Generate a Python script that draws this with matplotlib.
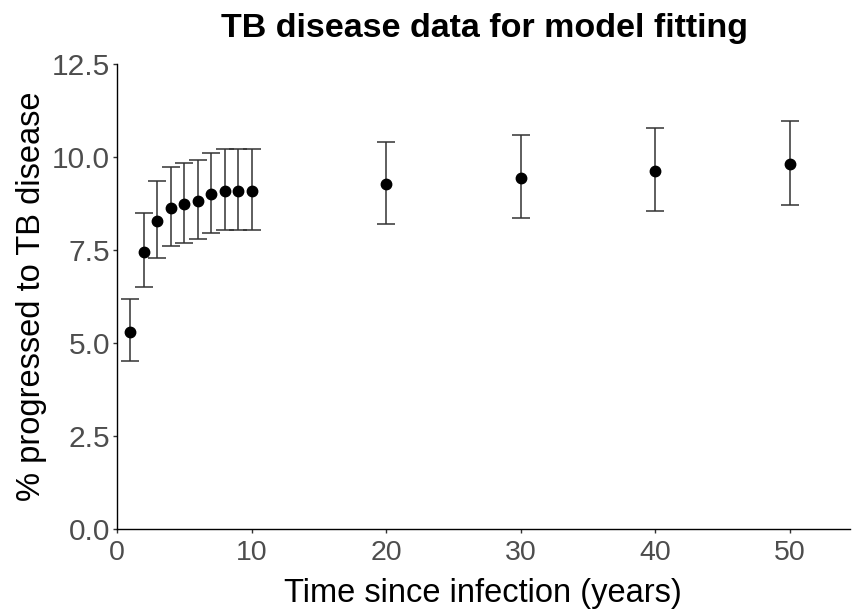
import matplotlib
matplotlib.use("Agg")
import matplotlib.pyplot as plt

# Cumulative % progressed to TB disease, with lower/upper bounds
years = [1, 2, 3, 4, 5, 6, 7, 8, 9, 10, 20, 30, 40, 50]
pct = [5.30, 7.45, 8.27, 8.63, 8.73, 8.82, 9.00, 9.09, 9.09, 9.09, 9.27, 9.44, 9.62, 9.81]
lower = [4.51, 6.51, 7.28, 7.61, 7.70, 7.79, 7.95, 8.04, 8.04, 8.04, 8.20, 8.37, 8.55, 8.72]
upper = [6.18, 8.50, 9.35, 9.74, 9.83, 9.92, 10.12, 10.21, 10.21, 10.21, 10.40, 10.59, 10.78, 10.98]

x_ticks = [0, 10, 20, 30, 40, 50]
y_ticks = [0.0, 2.5, 5.0, 7.5, 10.0, 12.5]

plt.rcParams["font.family"] = ["Liberation Sans", "DejaVu Sans"]

W, H = 852, 609
fig = plt.figure(figsize=(W / 100, H / 100), dpi=100)
ax = fig.add_axes([117 / W, 80 / H, (850 - 117) / W, (529 - 64) / H])

err_lo = [p - l for p, l in zip(pct, lower)]
err_hi = [u - p for p, u in zip(pct, upper)]
ax.errorbar(years, pct, yerr=[err_lo, err_hi], fmt="none", ecolor="#333333",
            elinewidth=1.1, capsize=6.5, capthick=1.1, zorder=2)
ax.plot(years, pct, "o", color="black", markersize=7.5, zorder=3)

ax.set_xlim(0, (850 - 117) / 13.45)
ax.set_ylim(0, 12.5)
ax.set_xticks(x_ticks)
ax.set_xticklabels([str(v) for v in x_ticks])
ax.set_yticks(y_ticks)
ax.set_yticklabels([f"{v:.1f}" for v in y_ticks])

for side in ("top", "right"):
    ax.spines[side].set_visible(False)
for side in ("left", "bottom"):
    ax.spines[side].set_linewidth(1.0)
    ax.spines[side].set_color("black")

ax.tick_params(axis="both", length=3, width=1.0, color="#333333",
               labelcolor="#4D4D4D")
ax.tick_params(axis="x", labelsize=20.5, pad=5)
ax.tick_params(axis="y", labelsize=21.5, pad=2)

# axis titles and heading
fig.text(483 / W, 7 / H, "Time since infection (years)", ha="center",
         va="baseline", fontsize=23.5, color="black")
fig.text(40 / W, 1 - 296 / H, "% progressed to TB disease", rotation=90,
         rotation_mode="anchor", ha="center", va="baseline",
         fontsize=23.5, color="black")
fig.text(485 / W, 1 - 37 / H, "TB disease data for model fitting", ha="center",
         va="baseline", fontsize=24.5, fontweight="bold", color="black")

fig.savefig("out.png", dpi=100)
